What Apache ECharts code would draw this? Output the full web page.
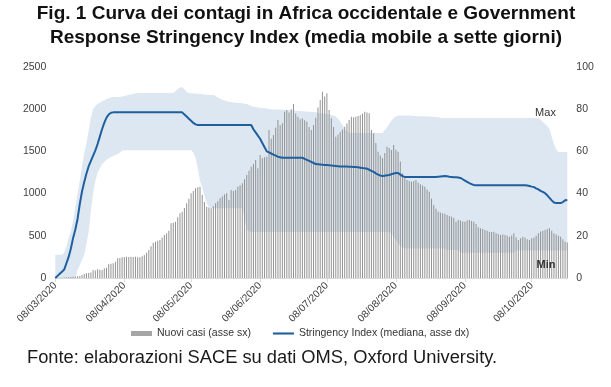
<!DOCTYPE html>
<html>
<head>
<meta charset="utf-8">
<script src="https://cdn.jsdelivr.net/npm/echarts@6/dist/echarts.min.js"></script>
<style>
html,body{margin:0;padding:0;background:#fff;}
#chart{width:611px;height:387px;}
</style>
</head>
<body>
<div id="chart"></div>
<script>
// Daily data from 08/03/2020 to 24/10/2020
var startDate = [2020, 3, 8];
var dayCount = 231;
var tickLabels = ['08/03/2020','08/04/2020','08/05/2020','08/06/2020','08/07/2020','08/08/2020','08/09/2020','08/10/2020'];

// Nuovi casi (asse sx), daily
var cases = [
0,2,3,4,6,8,10,12,15,18,
22,24,35,47,55,60,66,95,90,103,
98,95,115,120,162,170,174,193,233,238,
245,248,252,250,252,248,252,246,245,258,
272,300,332,375,418,430,440,450,480,510,
530,560,648,655,667,720,767,786,830,885,
940,1004,1030,1063,1075,1082,983,900,845,835,
826,850,885,910,944,965,990,1004,924,1043,
1030,1043,1080,1100,1122,1170,1220,1270,1319,1350,
1398,1300,1457,1420,1430,1437,1754,1650,1695,1780,
1872,1810,1833,1971,1991,1960,2000,2062,1950,1911,
1880,1892,1870,1852,1790,1754,1813,1900,2020,2109,
2208,2150,2188,1991,1892,1790,1674,1700,1734,1760,
1793,1830,1872,1911,1905,1911,1920,1931,1950,1971,
1960,1951,1754,1714,1600,1497,1450,1418,1480,1556,
1540,1516,1576,1520,1497,1380,1241,1200,1161,1150,
1141,1150,1161,1130,1110,1095,1082,1050,1023,940,
865,820,786,775,767,760,747,735,727,710,
667,687,680,670,667,680,687,675,667,640,
600,589,580,569,560,549,545,549,530,520,
510,515,510,500,490,505,530,480,450,470,
490,480,460,450,470,480,500,530,550,560,
569,580,589,560,530,515,500,490,460,430,
420];

// Stringency Index (mediana, asse dx)
var stringency = [
0,1,2,3,4,7,10,14,19,23,
28,35,41,45.5,49.5,53,55.5,58,60.5,63.5,
67,70.5,73.5,76,77.5,78.3,78.5,78.5,78.5,78.5,
78.5,78.5,78.5,78.5,78.5,78.5,78.5,78.5,78.5,78.5,
78.5,78.5,78.5,78.5,78.5,78.5,78.5,78.5,78.5,78.5,
78.5,78.5,78.5,78.5,78.5,78.5,78.5,78.5,77.5,76.5,
75.5,74.5,73.5,72.8,72.5,72.5,72.5,72.5,72.5,72.5,
72.5,72.5,72.5,72.5,72.5,72.5,72.5,72.5,72.5,72.5,
72.5,72.5,72.5,72.5,72.5,72.5,72.5,72.5,72.5,70.5,
69,67.5,66,64,62,60,59.5,59,58.5,58,
57.5,57.2,57,57,57,57,57,57,57,57,
57,57,56.5,56,55.5,55,54.5,54,53.9,53.8,
53.7,53.6,53.5,53.4,53.3,53.2,53.1,53,52.9,52.9,
52.8,52.8,52.7,52.7,52.6,52.6,52.5,52.3,52.1,52,
51.8,51.3,50.8,50.3,49.6,49,48.6,48.3,48.5,48.7,
48.8,49.2,49.5,49.8,49.8,49,48.3,47.9,47.9,47.9,
47.9,47.9,47.9,47.9,47.9,47.9,47.9,47.9,47.9,47.9,
47.9,47.9,48,48.1,48.2,48.3,48.2,48,47.9,47.8,
47.7,47.6,47.4,46.8,46.2,45.6,45,44.5,44.1,44,
44,44,44,44,44,44,44,44,44,44,
44,44,44,44,44,44,44,44,44,44,
44,44,43.8,43.6,43.3,43.1,42.5,42,41.3,40.8,
40.2,39.2,38,36.8,35.8,35.5,35.5,35.5,36,36.8,
37];

// Range band: Max
var bandMax = [
11,11,11,11,12,15,19,22,27,33,
40,46,53,59,64,70,76,80,81.5,82.5,
83,83.8,84.3,84.8,85.2,85.5,85.8,85.8,85.8,85.8,
86,86.2,86.5,86.8,87,87.3,87.5,87.7,87.7,87.7,
87.7,87.7,87.7,87.7,87.7,87.7,87.7,87.7,87.7,87.7,
87.7,87.7,87.7,87.7,88.5,89.5,90.3,90.5,89.5,88.2,
87.7,87.6,87.5,87.4,87.3,87.2,87.1,87,86.9,86.8,
86.7,86.7,86.2,85.6,85,84.5,84.2,83.8,83.5,83.4,
83.2,83.1,83,82.9,82.8,82.6,82.5,82,81.5,81.2,
81,80.8,80.7,80.6,80.5,80.4,80,80,79.9,79.9,
79.8,79.8,79.7,79.7,79.6,79.6,79.5,79.4,79.3,79.2,
79.1,79,78.9,78.9,78.8,78.8,78.7,78.5,78.3,78.2,
78,77.9,77.7,77.5,77.3,77,76.5,75.5,74,72.5,
70.5,69.5,69,68.7,68.7,68.7,68.7,68.7,68.7,68.7,
68.7,68.7,68.7,68.7,68.7,68.7,68.7,68.7,70,71.5,
73,74.5,75.8,76.5,77,77,77,77,77,77,
77,76.8,76.8,76.7,76.7,76.6,76.6,76.5,76.5,76.4,
76.4,76.3,76.3,75.8,75.8,75.8,75.8,75.8,75.8,75.8,
75.8,75.8,75.8,75.8,75.8,75.8,75.8,75.8,75.8,75.8,
75.8,75.8,75.8,75.8,75.8,75.8,75.8,75.8,75.8,75.8,
75.8,75.8,75.8,75.8,75.8,75.8,75.8,75.8,75.8,75.8,
75.8,75.8,75.8,75.8,75.8,75.8,75.8,75.8,75,74,
73,72,70.5,67,63.5,61,59.7,59.7,59.7,59.7,
59.7];

// Range band: Min
var bandMin = [
0,0,0,0,0,0,0,0,0,0,
3.8,6,8.5,11,16,22,32,40,46,50,
52,54,55,56,56.8,57.4,57.8,58.3,58.8,59.5,
60.3,60.6,60.6,60.6,60.6,60.6,60.6,60.6,60.6,60.6,
60.6,60.6,60.6,60.6,60.6,60.6,60.6,60.6,60.6,60.6,
60.6,60.6,60.6,60.6,60.6,60.6,60.6,60.6,60.6,60.6,
60.6,60.6,59.5,57,52,46,43,39,35.5,33.6,
33,33,33,33,33,33,33,33,33,33,
33,33,33,33,33,28,23,22,21.8,21.8,
21.8,21.8,21.8,21.8,21.8,21.8,21.8,21.8,21.8,21.8,
21.8,21.8,21.8,21.8,21.8,21.8,21.8,21.8,21.8,21.8,
21.8,21.8,21.8,21.8,21.8,21.8,21.8,21.8,21.8,21.8,
21.8,21.8,21.8,21.8,21.8,21.8,21.8,21.8,21.8,21.8,
21.8,21.8,21.8,21.8,21.8,21.8,21.8,21.8,21.8,21.8,
21.8,21.8,21.8,21.8,21.8,21.8,21.8,21.8,21.8,21.8,
21.8,21,19.5,18,16.5,15,14.5,14,14,14,
14,14,14,14,14,14,14,14,14,14,
14,14,14,14,14,14,13.3,13.3,13.3,13.3,
13.3,13.3,12,12,12,12,12,12,12,12,
12,12,12,12,12,12,12,12,12,12,
12,12,12,12,12,12,12,13,13,13,
13,13,13,13,13,13,13,13,13,13,
13,13,13,13,13,13,13,13,13,13,
13];

// category dates dd/mm/yyyy
var dates = [];
(function(){
  var d0 = new Date(startDate[0], startDate[1]-1, startDate[2]);
  for (var i = 0; i < dayCount; i++) {
    var d = new Date(d0.getFullYear(), d0.getMonth(), d0.getDate() + i);
    var dd = ('0' + d.getDate()).slice(-2), mm = ('0' + (d.getMonth()+1)).slice(-2);
    dates.push(dd + '/' + mm + '/' + d.getFullYear());
  }
})();
var bandRange = bandMax.map(function(v, i){ return +(v - bandMin[i]).toFixed(2); });

var FONT = '"Liberation Sans", Arial, sans-serif';
var chart = echarts.init(document.getElementById('chart'), null, {renderer: 'canvas'});
function isTick(idx, val){ return tickLabels.indexOf(dates[idx]) >= 0; }
function plain(v){ return String(v); }

chart.setOption({
  animation: false,
  textStyle: {fontFamily: FONT},
  grid: {left: 55.3, right: 43.7, top: 67, height: 211},
  legend: {
    left: 131, top: 328, padding: 0, itemWidth: 21, itemHeight: 5, itemGap: 22,
    textStyle: {fontSize: 10.5, color: '#333', fontFamily: FONT},
    data: [
      {name: 'Nuovi casi (asse sx)', icon: 'rect', itemStyle: {color: '#a6a6a6'}},
      {name: 'Stringency Index (mediana, asse dx)', icon: 'path://M0,0L100,0L100,10L0,10Z', itemStyle: {color: '#1f5f9f'}}
    ]
  },
  xAxis: {
    type: 'category', data: dates, boundaryGap: false,
    axisLine: {lineStyle: {color: '#d9d9d9', width: 1}},
    axisTick: {show: true, interval: isTick, length: 4, lineStyle: {color: '#d9d9d9'}},
    axisLabel: {interval: isTick, rotate: 45, fontSize: 10.3, color: '#404040', margin: 6, fontFamily: FONT},
    splitLine: {show: false}
  },
  yAxis: [
    {type: 'value', min: 0, max: 2500, interval: 500, position: 'left',
     axisLine: {show: false}, axisTick: {show: false}, splitLine: {show: false},
     axisLabel: {formatter: plain, fontSize: 10.5, color: '#404040', margin: 9, fontFamily: FONT}},
    {type: 'value', min: 0, max: 100, interval: 20, position: 'right',
     axisLine: {show: false}, axisTick: {show: false}, splitLine: {show: false},
     axisLabel: {formatter: plain, fontSize: 10.5, color: '#404040', margin: 9, fontFamily: FONT}}
  ],
  series: [
    {name: 'bandMin', type: 'line', yAxisIndex: 1, stack: 'band', data: bandMin,
     symbol: 'none', lineStyle: {opacity: 0}, silent: true, z: 1},
    {name: 'bandRange', type: 'line', yAxisIndex: 1, stack: 'band', data: bandRange,
     symbol: 'none', lineStyle: {opacity: 0}, areaStyle: {color: '#dde7f1', opacity: 1}, silent: true, z: 1},
    {name: 'Nuovi casi (asse sx)', type: 'bar', yAxisIndex: 0, data: cases,
     barWidth: 1, itemStyle: {color: '#939393'}, silent: true, z: 2},
    {name: 'Stringency Index (mediana, asse dx)', type: 'line', yAxisIndex: 1, data: stringency,
     symbol: 'none', lineStyle: {color: '#1f5f9f', width: 2}, itemStyle: {color: '#1f5f9f'}, z: 3}
  ],
  graphic: [
    {type: 'text', x: 306, y: 14, style: {text: 'Fig. 1 Curva dei contagi in Africa occidentale e Government', textAlign: 'center', textVerticalAlign: 'middle', font: 'bold 19px ' + FONT, fill: '#111'}},
    {type: 'text', x: 306, y: 38, style: {text: 'Response Stringency Index (media mobile a sette giorni)', textAlign: 'center', textVerticalAlign: 'middle', font: 'bold 19px ' + FONT, fill: '#111'}},
    {type: 'text', x: 27, y: 358, style: {text: 'Fonte: elaborazioni SACE su dati OMS, Oxford University.', textAlign: 'left', textVerticalAlign: 'middle', font: '18.3px ' + FONT, fill: '#1a1a1a'}},
    {type: 'text', x: 545.5, y: 113, z: 10, style: {text: 'Max', textAlign: 'center', textVerticalAlign: 'middle', font: '11px ' + FONT, fill: '#333'}},
    {type: 'text', x: 546, y: 265, z: 10, style: {text: 'Min', textAlign: 'center', textVerticalAlign: 'middle', font: 'bold 11px ' + FONT, fill: '#333'}}
  ]
});
</script>
</body>
</html>
